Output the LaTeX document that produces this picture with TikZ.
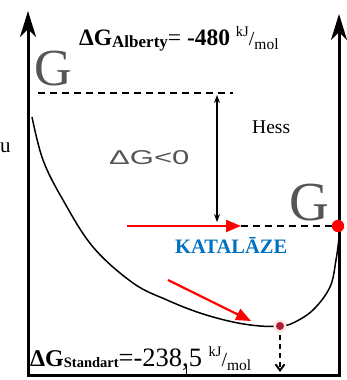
\documentclass[tikz,border=0pt]{standalone}
\usepackage{graphicx}
\usepackage{fontspec}
\setmainfont{Liberation Serif}
\newfontfamily\arialf{Liberation Sans}
\usetikzlibrary{arrows.meta}
\definecolor{katblue}{RGB}{0,112,192}
\definecolor{ggray}{RGB}{85,85,85}
\definecolor{mindot}{RGB}{175,30,55}
\begin{document}
\begin{tikzpicture}[x=1pt,y=-1pt,
  txt/.style={inner sep=0pt, anchor=base west},
  axis/.style={line width=3pt, {Stealth[length=26pt,width=16pt,inset=8pt]}-{Stealth[length=26pt,width=16pt,inset=8pt]}},
  dashline/.style={line width=2pt, dash pattern=on 7pt off 5pt},
  redarrow/.style={red, line width=2.2pt, -{Triangle[length=15pt,width=12pt]}},
  hessarrow/.style={line width=1.2pt, {Stealth[length=8pt,width=6pt]}-{Stealth[length=8pt,width=6pt]}},
  curve/.style={line width=1.5pt}]
\useasboundingbox (0,0) rectangle (346,380);

% axes
\coordinate (lt) at (28,11);
\coordinate (lb) at (28,375);
\coordinate (rb) at (339,375);
\coordinate (rt) at (339,14);
\draw[axis] (lt) -- (lb) -- (rb) -- (rt);

% energy curve
\draw[curve] plot[smooth, tension=0.6] coordinates {(32,117) (43,160) (63,200) (93,247) (133,283) (167,300) (200,313) (233,322) (260,326) (280,326) (293,323) (313,310) (330,287) (336,260) (339,238)};

% levels
\coordinate (d1a) at (38,93);
\coordinate (d1b) at (233,93);
\draw[dashline] (d1a) -- (d1b);
\coordinate (h1) at (217,95);
\coordinate (h2) at (217,222);
\draw[hessarrow] (h1) -- (h2);

\coordinate (r1) at (127,226);
\coordinate (r2) at (241,226);
\coordinate (d2b) at (333,226);
\draw[dashline] (r2) -- (d2b);
\draw[redarrow] (r1) -- (r2);

\coordinate (s1) at (168,280);
\coordinate (s2) at (251,321);
\draw[redarrow] (s1) -- (s2);

% minimum
\coordinate (mn) at (280,326);
\coordinate (mb) at (280,372);
\draw[line width=2pt, dash pattern=on 5pt off 4pt, -{Straight Barb[length=6pt,width=9pt]}] (mn) -- (mb);
\fill[red!10] (mn) circle (6.5);
\fill[mindot] (mn) circle (4);

\coordinate (rd) at (338,226);
\fill[red] (rd) circle (6.2);

\coordinate (tk1) at (186,365);
\coordinate (tk2) at (186,375);
\draw[line width=1pt] (tk1) -- (tk2);

% texts
\node[txt, text=ggray] (gl) at (34,85) {\fontsize{52}{52}\selectfont G};
\node[txt, text=ggray] (gr) at (289,220) {\fontsize{55}{55}\selectfont G};
\node[txt] (hess) at (252,133) {\fontsize{19.5}{20}\selectfont Hess};
\node[txt] (u) at (0,152) {\fontsize{21}{21}\selectfont u};
\node[txt, text=ggray] (dg) at (109,164) {\scalebox{1.55}[1]{\arialf\fontsize{20}{20}\selectfont ΔG<0}};
\node[txt, text=katblue] (kat) at (175,253) {\fontsize{20.5}{21}\selectfont\bfseries KATALĀZE};

\node[txt] (alb) at (79,45) {\fontsize{23.5}{24}\selectfont\bfseries ΔG\raisebox{-2.5pt}{\fontsize{17}{17}\selectfont Alberty}\mdseries= \bfseries -480\mdseries\ \raisebox{9pt}{\fontsize{14.5}{14}\selectfont kJ}\fontsize{20}{20}\selectfont/\raisebox{-4pt}{\fontsize{15.5}{15}\selectfont mol}};

\node[txt] (std) at (30,366) {\fontsize{24}{24}\selectfont\bfseries ΔG\raisebox{-1pt}{\fontsize{14.5}{15}\selectfont Standart}\mdseries\fontsize{26.5}{26}\selectfont=-238,5\ \raisebox{10pt}{\fontsize{14.5}{14}\selectfont kJ}\fontsize{20}{20}\selectfont/\raisebox{-4pt}{\fontsize{15.5}{15}\selectfont mol}};
\end{tikzpicture}
\end{document}
